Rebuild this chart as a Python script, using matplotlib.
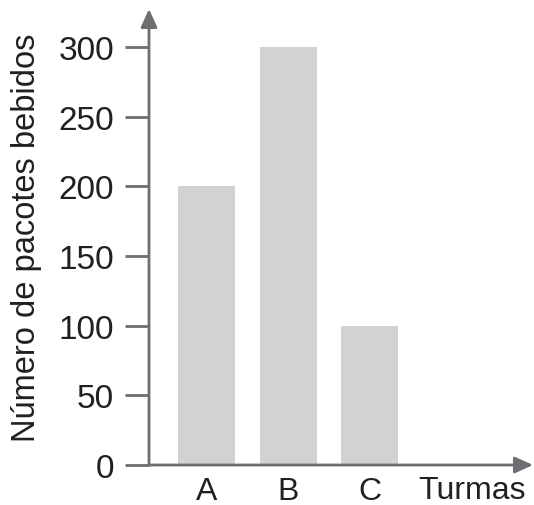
import matplotlib.pyplot as plt

# Dados
turmas = ["A", "B", "C"]
pacotes = [200, 300, 100]
ticks_y = [0, 50, 100, 150, 200, 250, 300]

COR_EIXO = "#6d6e71"
COR_BARRA = "#d1d2d4"
COR_TEXTO = "#231f20"

plt.rcParams["font.family"] = ["Liberation Sans", "DejaVu Sans"]

fig = plt.figure(figsize=(5.34, 5.06), dpi=100)
ax = fig.add_axes([149 / 534, 40 / 506, (533 - 149) / 534, (466 - 10) / 506])

posicoes = list(range(len(turmas)))
ax.bar(posicoes, pacotes, width=0.70, color=COR_BARRA, zorder=1)

ax.set_xlim(-0.706, 4.006)
ax.set_ylim(0, 327.3)

for s in ax.spines.values():
    s.set_visible(False)

# eixos com setas
seta = dict(arrowstyle="-|>,head_length=1.1,head_width=0.5",
            color=COR_EIXO, lw=2, shrinkA=0, shrinkB=0)
ax.annotate("", xy=(0, 1), xytext=(0, 0), xycoords="axes fraction", arrowprops=seta)
ax.annotate("", xy=(1, 0), xytext=(0, 0), xycoords="axes fraction", arrowprops=seta)

ax.set_yticks(ticks_y)
ax.set_yticklabels([str(v) for v in ticks_y])
ax.set_xticks(posicoes)
ax.set_xticklabels(turmas)
ax.tick_params(axis="y", length=17, width=2, color=COR_EIXO, pad=8,
               labelsize=24, labelcolor=COR_TEXTO)
ax.tick_params(axis="x", length=0, pad=8, labelsize=23, labelcolor=COR_TEXTO)

ax.set_ylabel("Número de pacotes bebidos", fontsize=23.5, color=COR_TEXTO, labelpad=12)
ax.text(3.26, -18, "Turmas", fontsize=23, color=COR_TEXTO, ha="center", va="center")

fig.savefig("out.png", dpi=100)
